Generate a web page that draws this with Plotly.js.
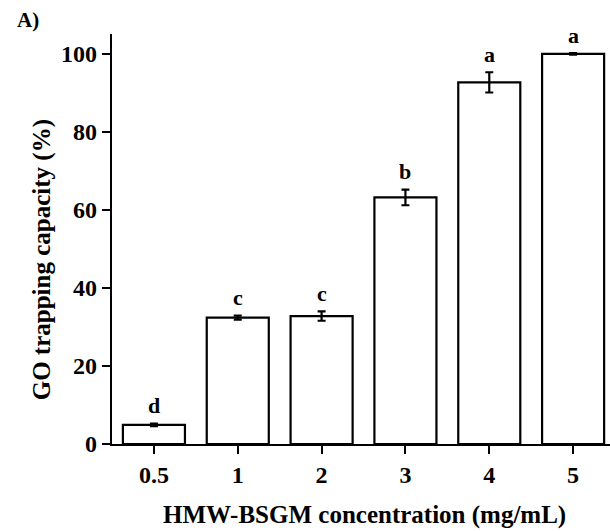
<!DOCTYPE html>
<html>
<head>
<meta charset="utf-8">
<script src="https://cdn.plot.ly/plotly-3.0.1.min.js"></script>
<style>html,body{margin:0;padding:0;background:#fff;}#chart{width:610px;height:531px;}</style>
</head>
<body>
<div id="chart"></div>
<script>
var categories = ["0.5", "1", "2", "3", "4", "5"];
var values = [4.9, 32.4, 32.8, 63.2, 92.7, 100.0];
var errors = [0.3, 0.5, 1.2, 2.0, 2.6, 0.2];
var letters = ["d", "c", "c", "b", "a", "a"];
var yTicks = [0, 20, 40, 60, 80, 100];

var font = "Liberation Serif";

var trace = {
  type: "bar",
  x: categories,
  y: values,
  width: 0.74,
  marker: {color: "#ffffff", line: {color: "#000000", width: 2.2}},
  error_y: {type: "data", array: errors, visible: true, color: "#000000", thickness: 2.2, width: 4},
  hoverinfo: "none"
};

var annotations = categories.map(function (c, i) {
  return {
    x: i, y: values[i] + errors[i], xref: "x", yref: "y",
    text: "<b>" + letters[i] + "</b>", showarrow: false,
    yanchor: "middle", yshift: 18,
    font: {family: font, size: 22, color: "#000"}
  };
});
annotations.push({
  xref: "paper", yref: "paper", x: -0.141, y: 0.45,
  text: "<b>GO trapping capacity (%)</b>", showarrow: false, textangle: -90,
  xanchor: "center", yanchor: "middle",
  font: {family: font, size: 25, color: "#000"}
});
annotations.push({
  xref: "paper", yref: "paper", x: 0.508, y: -0.174,
  text: "<b>HMW-BSGM concentration (mg/mL)</b>", showarrow: false,
  xanchor: "center", yanchor: "middle",
  font: {family: font, size: 25, color: "#000"}
});
annotations.push({
  xref: "paper", yref: "paper", x: -0.195, y: 1.035,
  text: "<b>A)</b>", showarrow: false,
  xanchor: "left", yanchor: "middle",
  font: {family: font, size: 21, color: "#000"}
});

var layout = {
  width: 610, height: 531,
  margin: {l: 112, r: 0, t: 34, b: 87},
  paper_bgcolor: "#fff", plot_bgcolor: "#fff",
  showlegend: false,
  font: {family: font, color: "#000"},
  xaxis: {
    type: "category", range: [-0.5, 5.44],
    showline: true, linecolor: "#000", linewidth: 2.2,
    ticks: "outside", ticklen: 8, tickwidth: 2, tickcolor: "#000",
    showgrid: false, zeroline: false,
    tickfont: {family: font, size: 24, color: "#000", weight: "bold"}
  },
  yaxis: {
    range: [0, 105.1],
    tickvals: yTicks, ticktext: yTicks.map(String),
    showline: true, linecolor: "#000", linewidth: 2.2,
    ticks: "outside", ticklen: 8, tickwidth: 2, tickcolor: "#000",
    showgrid: false, zeroline: false,
    tickfont: {family: font, size: 24, color: "#000", weight: "bold"}
  },
  annotations: annotations
};

Plotly.newPlot("chart", [trace], layout, {staticPlot: true, displayModeBar: false});
</script>
</body>
</html>
